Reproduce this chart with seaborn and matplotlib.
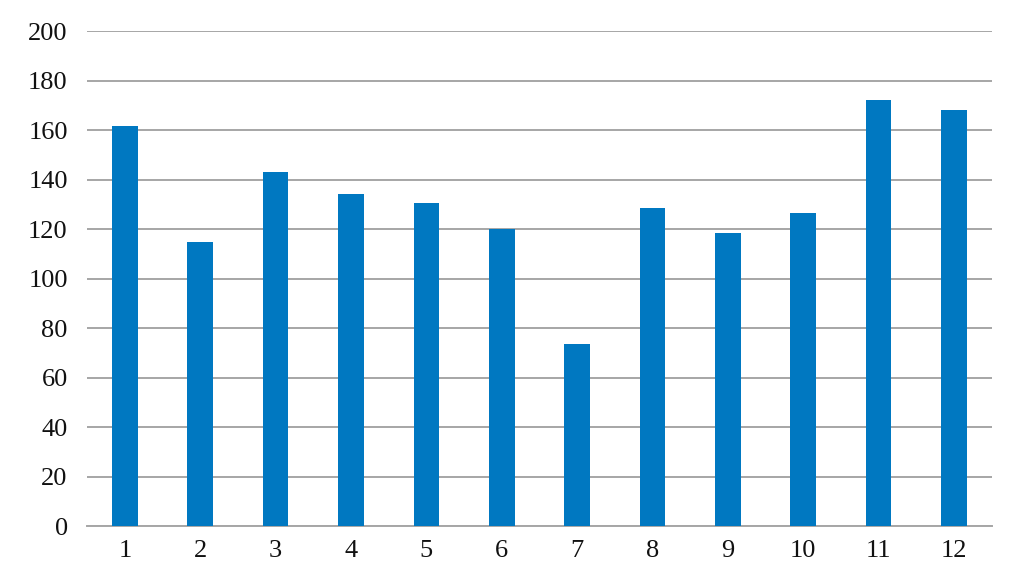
import matplotlib
matplotlib.use('Agg')
import matplotlib.pyplot as plt
import numpy as np
import pandas as pd
import seaborn as sns

# data
months = ['1', '2', '3', '4', '5', '6', '7', '8', '9', '10', '11', '12']
values = [161.6, 115.0, 143.3, 134.1, 130.5, 120.0, 73.5, 128.5, 118.4, 126.5, 172.1, 168.2]

df = pd.DataFrame({'month': months, 'value': values})

sns.set_style("white")
plt.rcParams['font.family'] = ['Liberation Serif', 'DejaVu Serif']

fig = plt.figure(figsize=(10.13, 5.88), dpi=100)
ax = fig.add_axes([0.086, 0.105, 0.893, 0.842])

sns.barplot(x='month', y='value', data=df, color='#0078C1', saturation=1,
            width=0.34, linewidth=0, ax=ax, zorder=3)

ax.set_ylim(0, 200)
ax.set_yticks(np.arange(0, 201, 20))
ax.set_xlim(-0.5, 11.5)
ax.yaxis.grid(True, color='#A6A6A6', linewidth=1.4, zorder=0)
ax.set_axisbelow(True)
for s in ['top', 'right', 'left']:
    ax.spines[s].set_visible(False)
ax.spines['bottom'].set_color('#A6A6A6')
ax.spines['bottom'].set_linewidth(1.4)
ax.tick_params(axis='both', length=0, labelsize=19, colors='#111111')
ax.tick_params(axis='y', pad=14)
ax.tick_params(axis='x', pad=10)
ax.set_xlabel('')
ax.set_ylabel('')

plt.savefig('out.png', dpi=100)
